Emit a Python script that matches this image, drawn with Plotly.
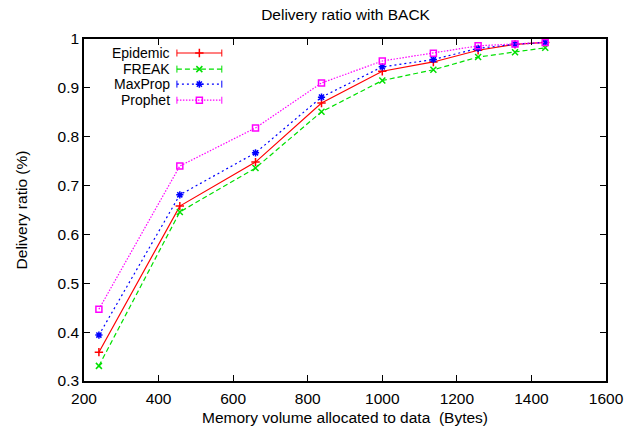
import plotly.graph_objects as go

memory = [240, 457, 660, 837, 1000, 1137, 1257, 1356, 1437]
epidemic = [0.359, 0.658, 0.748, 0.869, 0.934, 0.953, 0.977, 0.989, 0.993]
freak = [0.331, 0.646, 0.736, 0.851, 0.915, 0.937, 0.963, 0.973, 0.982]
maxprop = [0.394, 0.681, 0.767, 0.881, 0.943, 0.958, 0.981, 0.989, 0.993]
prophet = [0.447, 0.740, 0.818, 0.910, 0.955, 0.971, 0.986, 0.990, 0.993]
names = ["Epidemic", "FREAK", "MaxProp", "Prophet"]
x_ticks = [200, 400, 600, 800, 1000, 1200, 1400, 1600]
y_ticks = [0.3, 0.4, 0.5, 0.6, 0.7, 0.8, 0.9, 1.0]
y_tick_labels = ["0.3", "0.4", "0.5", "0.6", "0.7", "0.8", "0.9", "1"]

FONT = "Liberation Sans, Arial, sans-serif"
FS = 15.5
KEY_FS = 14

styles = [
    dict(color="#ff0000", dash="solid", symbol="cross-thin-open"),
    dict(color="#00e000", dash="5px,3px", symbol="x-thin-open"),
    dict(color="#0000ff", dash="2px,3px", symbol="asterisk-open"),
    dict(color="#ff00ff", dash="1.5px,1.5px", symbol="square-open"),
]
series = [epidemic, freak, maxprop, prophet]

fig = go.Figure()
for name, vals, st in zip(names, series, styles):
    fig.add_trace(go.Scatter(
        x=memory, y=vals, mode="lines+markers", name=name, showlegend=False,
        line=dict(color=st["color"], width=1.2, dash=st["dash"]),
        marker=dict(symbol=st["symbol"], size=6, color=st["color"],
                    line=dict(color=st["color"], width=1.5)),
    ))

# custom gnuplot-style key (in plot-fraction coordinates)
key_rows = [0.959, 0.912, 0.868, 0.821]
kx0, kx1 = 0.178, 0.264
for name, ky, st in zip(names, key_rows, styles):
    fig.add_trace(go.Scatter(
        x=[kx0, kx1], y=[ky, ky], mode="lines+markers", xaxis="x2", yaxis="y2",
        showlegend=False, hoverinfo="skip",
        line=dict(color=st["color"], width=1.2, dash=st["dash"]),
        marker=dict(symbol="line-ns-open", size=5, color=st["color"],
                    line=dict(color=st["color"], width=1)),
    ))
    fig.add_trace(go.Scatter(
        x=[(kx0 + kx1) / 2], y=[ky], mode="markers", xaxis="x2", yaxis="y2",
        showlegend=False, hoverinfo="skip",
        marker=dict(symbol=st["symbol"], size=6, color=st["color"],
                    line=dict(color=st["color"], width=1.5)),
    ))
    fig.add_annotation(
        x=0.163, y=ky, xref="x2", yref="y2", text=name, showarrow=False,
        xanchor="right", yanchor="middle", xshift=2, borderpad=0,
        font=dict(family=FONT, size=KEY_FS, color="black"),
    )

axis_common = dict(
    showline=True, linecolor="black", linewidth=1.5, mirror="ticks",
    ticks="inside", ticklen=6, tickwidth=1, tickcolor="black",
    showgrid=False, zeroline=False, automargin=False,
    tickfont=dict(family=FONT, size=FS, color="black"),
)

fig.update_layout(
    width=626, height=429,
    paper_bgcolor="white", plot_bgcolor="white",
    margin=dict(l=84, r=20, t=39, b=48),
    title=dict(text="Delivery ratio with BACK", x=0.552, y=0.965, xanchor="center", yanchor="middle",
               font=dict(family=FONT, size=FS, color="black")),
    xaxis=dict(range=[200, 1600], tickvals=x_ticks, ticklabelstandoff=3,
               title=dict(text="Memory volume allocated to data&nbsp; (Bytes)", standoff=6,
                          font=dict(family=FONT, size=FS, color="black")),
               **axis_common),
    yaxis=dict(range=[0.3, 1.0], tickvals=y_ticks, ticktext=y_tick_labels,
               title=dict(text="Delivery ratio (%)", standoff=26,
                          font=dict(family=FONT, size=FS, color="black")),
               **axis_common),
    xaxis2=dict(range=[0, 1], overlaying="x", visible=False, domain=[0, 1]),
    yaxis2=dict(range=[0, 1], overlaying="y", visible=False),
)

fig.write_html("out.html")
